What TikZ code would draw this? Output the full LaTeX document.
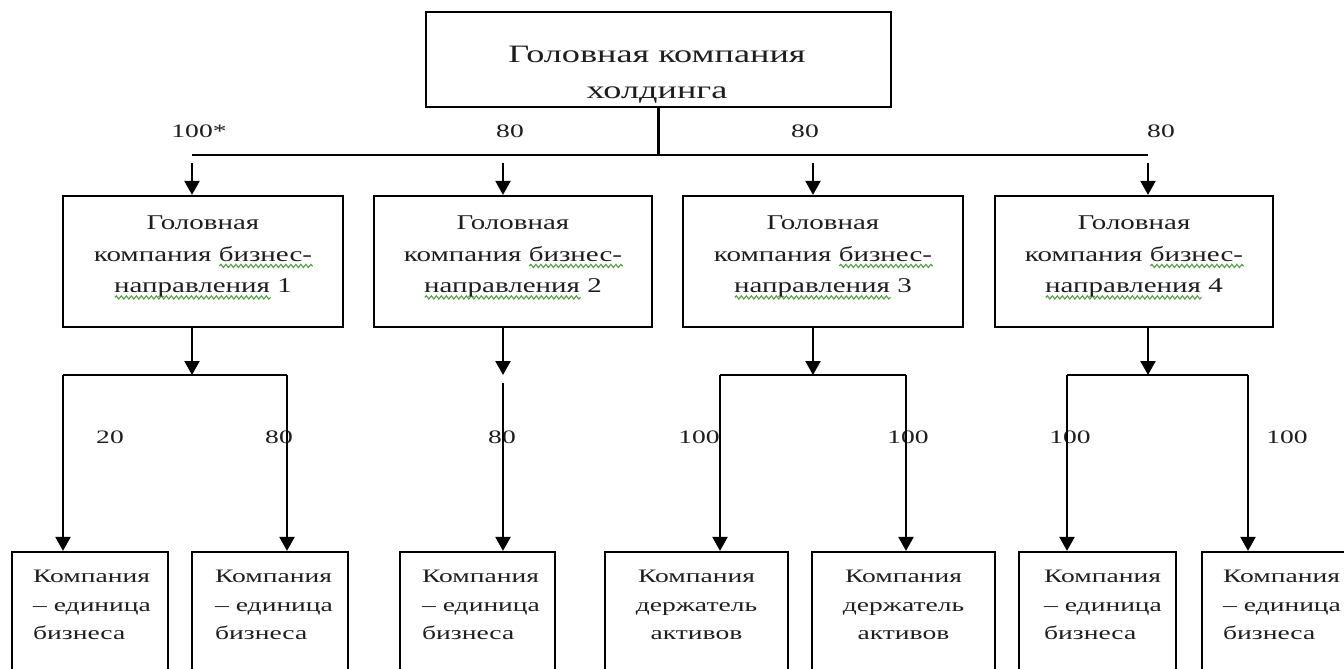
\documentclass[tikz,border=0pt]{standalone}
\usepackage{fontspec}
\newfontfamily\df{Liberation Serif}[FakeStretch=1.45]
\newfontfamily\dfB{Liberation Serif}[FakeStretch=1.38]
\usetikzlibrary{arrows.meta,decorations.pathmorphing}
\definecolor{txt}{HTML}{1E1E1E}
\definecolor{spellc}{HTML}{52A042}
\newsavebox\spbox
\newcommand\spw[1]{\sbox\spbox{#1}\rlap{\tikz[baseline=4.5pt,x=1pt,y=1pt]\draw[spellc,line width=1.1pt,decorate,decoration={snake,amplitude=1.6pt,segment length=5pt}] (0,0) -- (\the\wd\spbox,0);}\usebox\spbox}
\tikzset{
  box/.style={draw, line width=2.2pt, inner sep=0pt},
  ln/.style={line width=2.2pt},
  arr/.style={line width=2.2pt, -{Triangle[width=15pt,length=14pt]}},
  tA/.style={font=\df\fontsize{25}{36}\selectfont, align=center, inner sep=0pt, text=txt, anchor=north},
  tB/.style={font=\dfB\fontsize{21}{31.5}\selectfont, align=center, inner sep=0pt, text=txt, anchor=north},
  tC/.style={font=\df\fontsize{19}{28.5}\selectfont, align=left, inner sep=0pt, text=txt, anchor=north west},
  tCc/.style={tC, align=center, anchor=north},
  lab/.style={font=\df\fontsize{19}{22}\selectfont, inner sep=0pt, text=txt, anchor=base},
}
\begin{document}
\begin{tikzpicture}[x=1pt,y=-1pt]
\fill[white] (0,0) rectangle (1344,669);
\useasboundingbox (0,0) rectangle (1344,669);

% level 1
\node[box, minimum width=465pt, minimum height=95pt] (top) at (658.5,59.5) {};
\node[tA] (topt) at (657,45.5) {Головная компания\\холдинга};

% level 2 boxes
\node[box, minimum width=280pt, minimum height=131pt] (b1) at (203,261.5) {};
\node[box, minimum width=278pt, minimum height=131pt] (b2) at (513,261.5) {};
\node[box, minimum width=280pt, minimum height=131pt] (b3) at (823,261.5) {};
\node[box, minimum width=278pt, minimum height=131pt] (b4) at (1134,261.5) {};
\node[tB] (b1t) at (203,216) {Головная\\компания \spw{бизнес-}\\\spw{направления} 1};
\node[tB] (b2t) at (513,216) {Головная\\компания \spw{бизнес-}\\\spw{направления} 2};
\node[tB] (b3t) at (823,216) {Головная\\компания \spw{бизнес-}\\\spw{направления} 3};
\node[tB] (b4t) at (1134,216) {Головная\\компания \spw{бизнес-}\\\spw{направления} 4};

% level 3 boxes
\node[box, minimum width=156pt, minimum height=150pt] (ca) at (90,627) {};
\node[box, minimum width=156pt, minimum height=150pt] (cb) at (270,627) {};
\node[box, minimum width=155pt, minimum height=150pt] (cc) at (477.5,627) {};
\node[box, minimum width=183pt, minimum height=150pt] (cd) at (696.5,627) {};
\node[box, minimum width=183pt, minimum height=150pt] (ce) at (903.5,627) {};
\node[box, minimum width=157pt, minimum height=150pt] (cf) at (1097.5,627) {};
\node[box, minimum width=158pt, minimum height=150pt] (cg) at (1281,627) {};
\node[tC] (cat) at (33,570) {Компания\\– единица\\бизнеса};
\node[tC] (cbt) at (215,570) {Компания\\– единица\\бизнеса};
\node[tC] (cct) at (422,570) {Компания\\– единица\\бизнеса};
\node[tCc] (cdt) at (696.5,570) {Компания\\держатель\\активов};
\node[tCc] (cet) at (903.5,570) {Компания\\держатель\\активов};
\node[tC] (cft) at (1044,570) {Компания\\– единица\\бизнеса};
\node[tC] (cgt) at (1223,570) {Компания\\– единица\\бизнеса};

% labels
\node[lab] (l1) at (199,137) {100*};
\node[lab] (l2) at (510,137) {80};
\node[lab] (l3) at (805,137) {80};
\node[lab] (l4) at (1161,137) {80};
\node[lab] (m1) at (110,443) {20};
\node[lab] (m2) at (279,443) {80};
\node[lab] (m3) at (502,443) {80};
\node[lab] (m4) at (699,443) {100};
\node[lab] (m5) at (908,443) {100};
\node[lab] (m6) at (1070,443) {100};
\node[lab] (m7) at (1287,443) {100};

% bus
\coordinate (busL) at (192,155);
\coordinate (busR) at (1148,155);
\draw[ln] (busL) -- (busR);
\draw[ln] (top.south) -- (top.south |- busL);
\coordinate (s1) at (192,163);
\coordinate (s2) at (503,163);
\coordinate (s3) at (813,163);
\coordinate (s4) at (1148,163);
\draw[arr] (s1) -- (s1 |- b1.north);
\draw[arr] (s2) -- (s2 |- b2.north);
\draw[arr] (s3) -- (s3 |- b3.north);
\draw[arr] (s4) -- (s4 |- b4.north);

% distributors
\coordinate (h1L) at (63,375);
\coordinate (h1R) at (287,375);
\coordinate (h2) at (503,375);
\coordinate (h2b) at (503,383);
\coordinate (h3L) at (720,375);
\coordinate (h3R) at (906,375);
\coordinate (h4L) at (1067,375);
\coordinate (h4R) at (1248,375);
\draw[arr] (b1.south -| s1) -- (s1 |- h1L);
\draw[arr] (b2.south -| s2) -- (h2);
\draw[arr] (b3.south -| s3) -- (s3 |- h3L);
\draw[arr] (b4.south -| s4) -- (s4 |- h4L);
\draw[ln] (h1L) -- (h1R);
\draw[ln] (h3L) -- (h3R);
\draw[ln] (h4L) -- (h4R);
\draw[arr] (h1L) -- (h1L |- ca.north);
\draw[arr] (h1R) -- (h1R |- cb.north);
\draw[arr] (h2b) -- (h2b |- cc.north);
\draw[arr] (h3L) -- (h3L |- cd.north);
\draw[arr] (h3R) -- (h3R |- ce.north);
\draw[arr] (h4L) -- (h4L |- cf.north);
\draw[arr] (h4R) -- (h4R |- cg.north);
\end{tikzpicture}
\end{document}
